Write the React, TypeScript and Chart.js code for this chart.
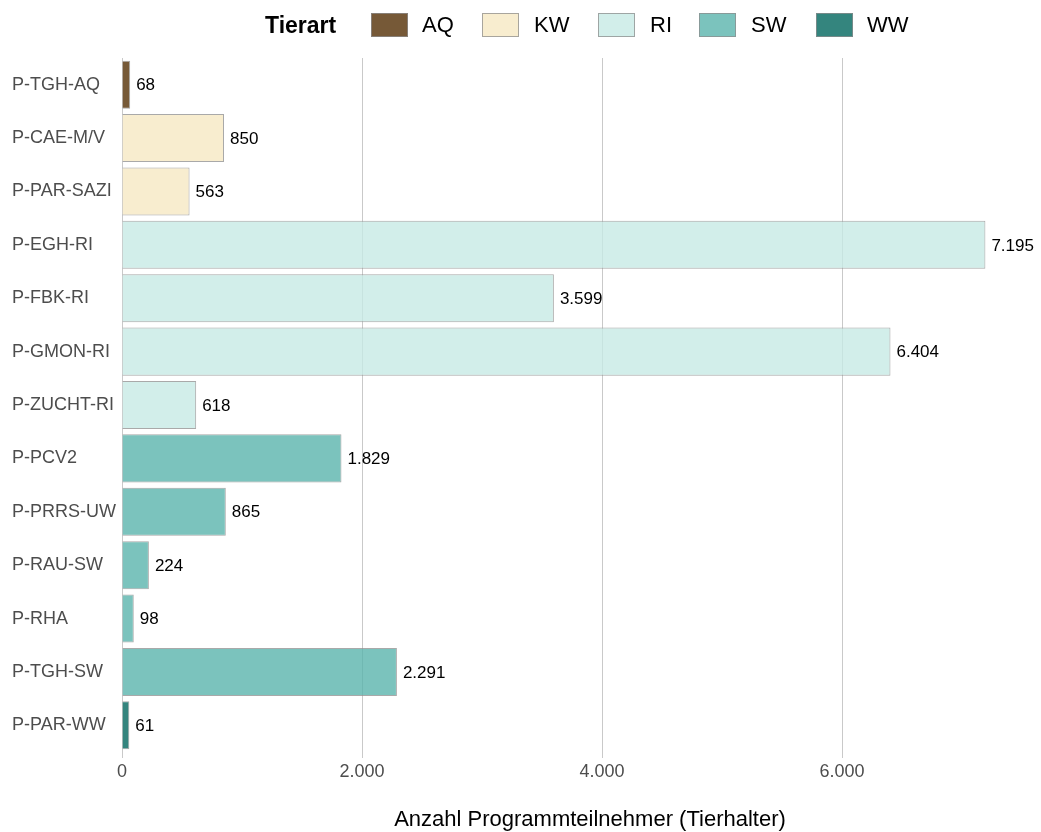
import React, { useEffect, useRef } from "react";
import { Chart, registerables } from "chart.js";

Chart.register(...registerables);

const categories = [
  "P-TGH-AQ",
  "P-CAE-M/V",
  "P-PAR-SAZI",
  "P-EGH-RI",
  "P-FBK-RI",
  "P-GMON-RI",
  "P-ZUCHT-RI",
  "P-PCV2",
  "P-PRRS-UW",
  "P-RAU-SW",
  "P-RHA",
  "P-TGH-SW",
  "P-PAR-WW",
];
const values = [68, 850, 563, 7195, 3599, 6404, 618, 1829, 865, 224, 98, 2291, 61];
const tierart = ["AQ", "KW", "KW", "RI", "RI", "RI", "RI", "SW", "SW", "SW", "SW", "SW", "WW"];
const tierartLevels = ["AQ", "KW", "RI", "SW", "WW"];
const tierartColors = ["#543005", "#f6e8c3", "#c7eae5", "#5ab4ac", "#01665e"];
const xTicks = [0, 2000, 4000, 6000];
const legendTitle = "Tierart";
const xTitle = "Anzahl Programmteilnehmer (Tierhalter)";

const FONT = "'Liberation Sans', Arial, Helvetica, sans-serif";

function fmt(n: number): string {
  return String(Math.round(n)).replace(/\B(?=(\d{3})+(?!\d))/g, ".");
}

function withAlpha(hex: string, a: number): string {
  const r = parseInt(hex.slice(1, 3), 16);
  const g = parseInt(hex.slice(3, 5), 16);
  const b = parseInt(hex.slice(5, 7), 16);
  return `rgba(${r},${g},${b},${a})`;
}

const colorFor = (t: string) => tierartColors[tierartLevels.indexOf(t)];

const valueLabelPlugin = {
  id: "valueLabels",
  afterDatasetsDraw(chart: any) {
    const ctx = chart.ctx;
    const meta = chart.getDatasetMeta(0);
    ctx.save();
    ctx.font = `17px ${FONT}`;
    ctx.fillStyle = "#000000";
    ctx.textAlign = "left";
    ctx.textBaseline = "middle";
    meta.data.forEach((bar: any, i: number) => {
      const v = chart.data.datasets[0].data[i] as number;
      ctx.fillText(fmt(v), bar.x + 6, bar.y + 1);
    });
    ctx.restore();
  },
};

const legendBoxLeft = [371, 482, 598, 699, 816];
const legendTextLeft = [422, 534, 650, 751, 867];

export default function App() {
  const canvasRef = useRef<HTMLCanvasElement | null>(null);

  useEffect(() => {
    if (!canvasRef.current) return;
    const chart = new Chart(canvasRef.current, {
      type: "bar",
      data: {
        labels: categories,
        datasets: [
          {
            data: values,
            backgroundColor: tierart.map((t) => withAlpha(colorFor(t), 0.8)),
            borderColor: "rgba(140,140,140,0.75)",
            borderWidth: 1,
            categoryPercentage: 0.9,
            barPercentage: 1,
          },
        ],
      },
      options: {
        indexAxis: "y",
        animation: false,
        responsive: false,
        maintainAspectRatio: false,
        layout: { padding: { left: 12, right: 7, top: 58, bottom: 0 } },
        plugins: {
          legend: { display: false },
          tooltip: { enabled: false },
        },
        scales: {
          x: {
            type: "linear",
            min: 0,
            max: 7600,
            afterBuildTicks: (scale: any) => {
              scale.ticks = xTicks.map((v) => ({ value: v }));
            },
            afterFit: (scale: any) => {
              scale.height = 80;
            },
            grid: {
              color: "#c9c9c9",
              lineWidth: 1,
              drawTicks: true,
              tickLength: 6,
              tickColor: "#c9c9c9",
            },
            border: { display: false },
            ticks: {
              callback: (v: any) => fmt(Number(v)),
              font: { family: FONT, size: 18 },
              color: "#4d4d4d",
              padding: 3,
              maxRotation: 0,
            },
            title: { display: false },
          },
          y: {
            type: "category",
            afterFit: (scale: any) => {
              scale.width = 110;
            },
            grid: { display: false },
            border: { display: false },
            ticks: {
              crossAlign: "far",
              font: { family: FONT, size: 18 },
              color: "#4d4d4d",
            },
          },
        },
      },
      plugins: [valueLabelPlugin],
    });
    return () => chart.destroy();
  }, []);

  return (
    <div style={{ position: "absolute", left: 0, top: 0, width: 1041, height: 832, background: "#ffffff" }}>
      <canvas ref={canvasRef} width={1041} height={832} style={{ position: "absolute", left: 0, top: 0 }} />
      <div
        style={{
          position: "absolute",
          left: 265,
          top: 25,
          transform: "translateY(-50%)",
          fontFamily: FONT,
          fontWeight: "bold",
          fontSize: 23,
          lineHeight: "26px",
          color: "#000",
          whiteSpace: "nowrap",
        }}
      >
        {legendTitle}
      </div>
      {tierartLevels.map((t, i) => (
        <React.Fragment key={t}>
          <div
            style={{
              position: "absolute",
              left: legendBoxLeft[i],
              top: 13,
              width: 37,
              height: 24,
              boxSizing: "border-box",
              background: withAlpha(tierartColors[i], 0.8),
              border: "1px solid rgba(140,140,140,0.75)",
            }}
          />
          <div
            style={{
              position: "absolute",
              left: legendTextLeft[i],
              top: 25,
              transform: "translateY(-50%)",
              fontFamily: FONT,
              fontSize: 22,
              lineHeight: "26px",
              color: "#000",
              whiteSpace: "nowrap",
            }}
          >
            {t}
          </div>
        </React.Fragment>
      ))}
      <div
        style={{
          position: "absolute",
          left: 590,
          top: 819,
          transform: "translate(-50%, -50%)",
          fontFamily: FONT,
          fontSize: 22,
          lineHeight: "26px",
          color: "#000",
          whiteSpace: "nowrap",
        }}
      >
        {xTitle}
      </div>
    </div>
  );
}
